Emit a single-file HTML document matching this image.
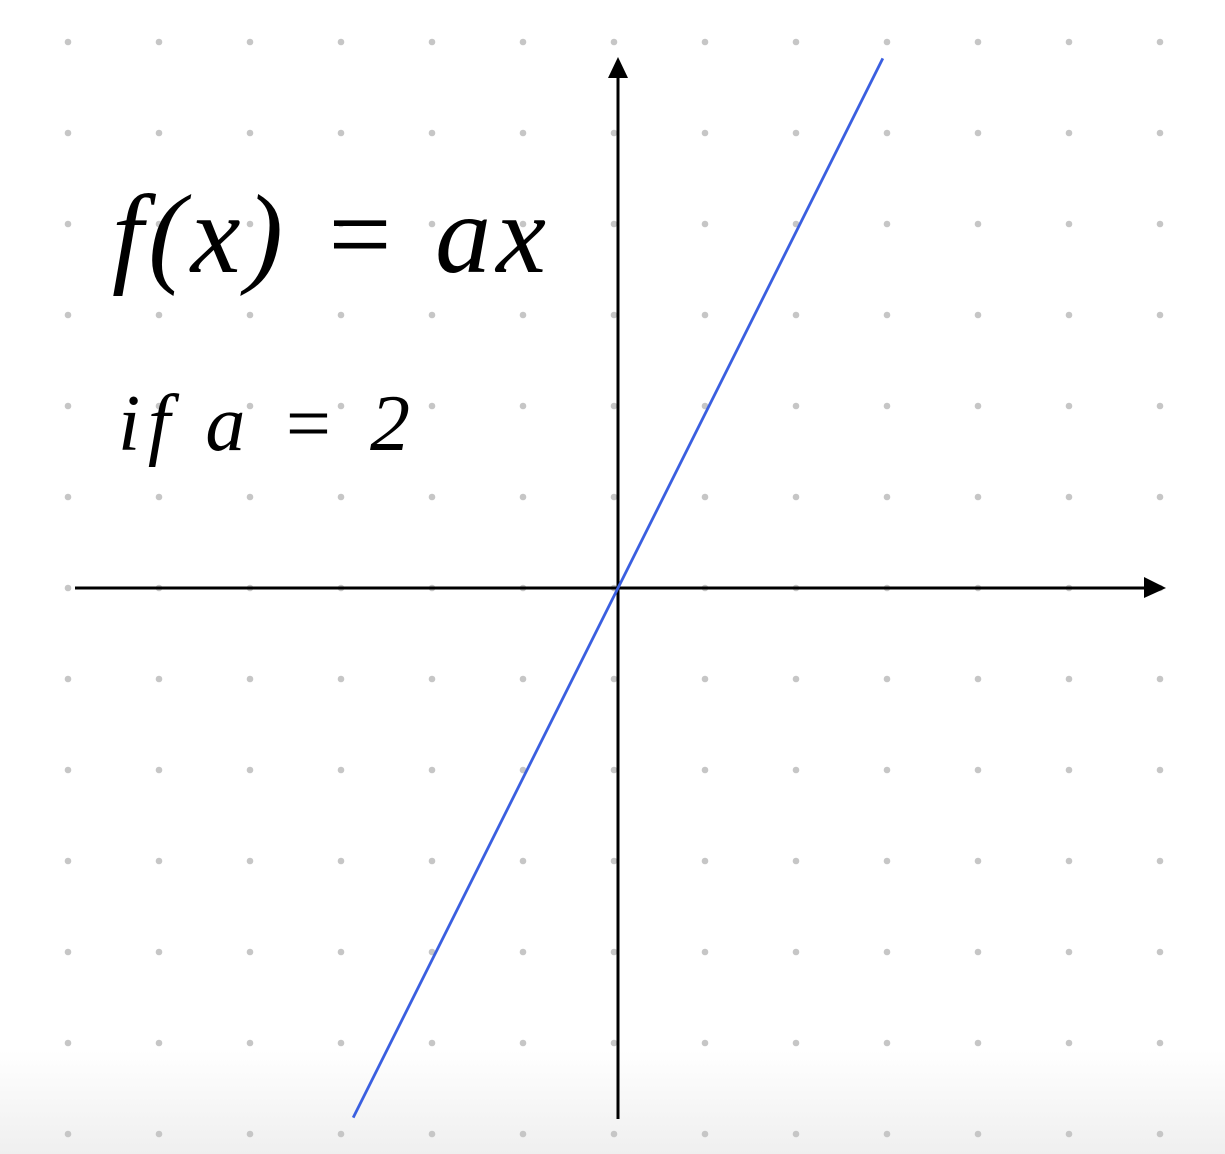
<!DOCTYPE html>
<html><head><meta charset="utf-8"><style>
html,body{margin:0;padding:0;width:1225px;height:1154px;overflow:hidden;background:#fff}
svg{display:block}
</style></head><body>
<svg id="chart" width="1225" height="1154" viewBox="0 0 1225 1154">
<defs><linearGradient id="fade" x1="0" y1="0" x2="0" y2="1">
<stop offset="0" stop-color="#fff"/><stop offset="1" stop-color="#efefef"/></linearGradient></defs>
<rect x="0" y="1050" width="1225" height="104" fill="url(#fade)"/>
<g id="dots"></g>
<line x1="75" y1="588" x2="1148" y2="588" stroke="#000" stroke-width="3"/>
<polygon points="1144,577 1166,588 1144,598" fill="#000"/>
<line x1="618" y1="75" x2="618" y2="1119" stroke="#000" stroke-width="3"/>
<polygon points="608,78 618,57 628,78" fill="#000"/>
<g id="series"></g>
<text x="112" y="272" font-family="'Liberation Serif',serif" font-style="italic" font-size="112" letter-spacing="6" textLength="440" lengthAdjust="spacing" fill="#000">f(x) = ax</text>
<text x="118" y="450" font-family="'Liberation Serif',serif" font-style="italic" font-size="80" textLength="292" lengthAdjust="spacing" fill="#000">if a = 2</text>
</svg>
<script>
const xDomain = [-2.91, 2.91];
const slope = [2];
const dotCols = [-6,-5,-4,-3,-2,-1,0,1,2,3,4,5,6];
const dotRows = [-6,-5,-4,-3,-2,-1,0,1,2,3,4,5,6];
const ox = 618, oy = 588, unit = 91;
function sx(v){return ox + v*unit;}
function sy(v){return oy - v*unit;}
const NS = "http://www.w3.org/2000/svg";
const dg = document.getElementById('dots');
dotRows.forEach(r=>dotCols.forEach(c=>{
  const d=document.createElementNS(NS,'circle');
  
  
  d.setAttribute('cx',sx(c)-4);d.setAttribute('cy',sy(r));d.setAttribute('r',3.3);d.setAttribute('fill','#c6c6c6');
  dg.appendChild(d);
}));
const sg=document.getElementById('series');
const l=document.createElementNS(NS,'line');


l.setAttribute('x1',sx(xDomain[0]));l.setAttribute('y1',sy(slope[0]*xDomain[0]));
l.setAttribute('x2',sx(xDomain[1]));l.setAttribute('y2',sy(slope[0]*xDomain[1]));
l.setAttribute('stroke','#3a5fe0');l.setAttribute('stroke-width','2.8');
sg.appendChild(l);
</script>
</body></html>
